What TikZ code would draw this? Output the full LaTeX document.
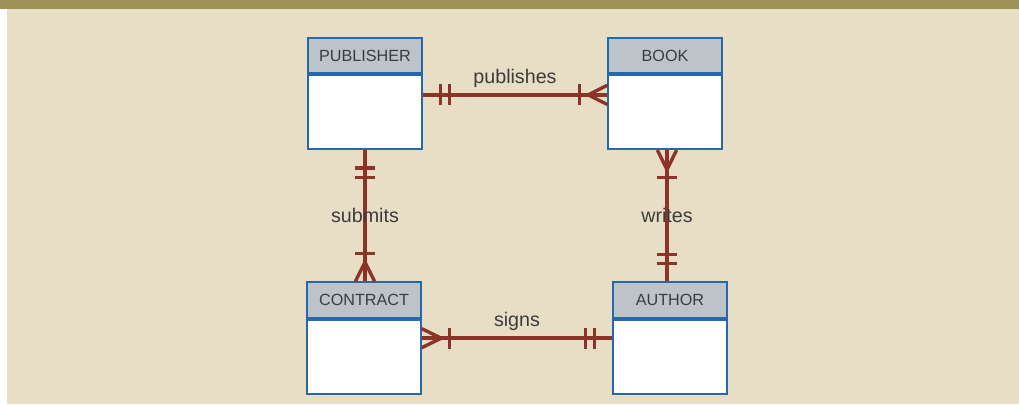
\documentclass[tikz,border=0pt]{standalone}
\usepackage{fontspec}
\setmainfont{Liberation Sans}
\usetikzlibrary{decorations.markings}
\definecolor{bandcol}{RGB}{158,145,86}
\definecolor{papercol}{RGB}{232,221,197}
\definecolor{boxline}{RGB}{38,104,172}
\definecolor{headfill}{RGB}{188,195,201}
\definecolor{relcol}{RGB}{140,52,42}
\definecolor{txtcol}{RGB}{60,60,60}
\tikzset{
  head/.style={draw=boxline, line width=1.4pt, fill=headfill, inner sep=0pt,
    minimum width=2.83cm, minimum height=0.88cm, text=txtcol,
    font=\fontsize{11.5}{13}\selectfont},
  body/.style={draw=boxline, line width=1.4pt, fill=white, inner sep=0pt,
    minimum width=2.83cm, minimum height=1.85cm},
  rel/.style={draw=relcol, line width=2.6pt},
  lbl/.style={text=txtcol, font=\fontsize{14}{16}\selectfont, inner sep=1pt},
  onestart/.style={postaction={decorate, decoration={markings,
    mark=at position 0.45cm with {\draw[relcol, line width=2.4pt] (0,-0.26cm) -- (0,0.26cm);},
    mark=at position 0.68cm with {\draw[relcol, line width=2.4pt] (0,-0.26cm) -- (0,0.26cm);}}}},
  oneend/.style={postaction={decorate, decoration={markings,
    mark=at position -0.68cm with {\draw[relcol, line width=2.4pt] (0,-0.26cm) -- (0,0.26cm);},
    mark=at position -0.45cm with {\draw[relcol, line width=2.4pt] (0,-0.26cm) -- (0,0.26cm);}}}},
  manystart/.style={postaction={decorate, decoration={markings,
    mark=at position 0.49cm with {\draw[relcol, line width=2.4pt] (0,0) -- (-0.49cm,0.24cm) (0,0) -- (-0.49cm,-0.24cm);},
    mark=at position 0.69cm with {\draw[relcol, line width=2.4pt] (0,-0.26cm) -- (0,0.26cm);}}}},
  manyend/.style={postaction={decorate, decoration={markings,
    mark=at position -0.7cm with {\draw[relcol, line width=2.4pt] (0,-0.26cm) -- (0,0.26cm);},
    mark=at position -0.48cm with {\draw[relcol, line width=2.4pt] (0,0) -- (0.48cm,0.24cm) (0,0) -- (0.48cm,-0.24cm);}}}}
}
\begin{document}
\begin{tikzpicture}[x=0.025cm, y=-0.025cm]
    \useasboundingbox (0,0) rectangle (1019,404);
    % background
    \fill[papercol] (0,0) rectangle (1019,404);
    \fill[white] (0,9) rectangle (7,404);
    \fill[bandcol] (0,0) rectangle (1019,9);
    % entities
    \node[head] (pub) at (365,55.5) {PUBLISHER};
    \node[body, anchor=north] (pubb) at (pub.south) {};
    \node[head] (book) at (665,55.5) {BOOK};
    \node[body, anchor=north] (bookb) at (book.south) {};
    \node[head] (con) at (364,300) {CONTRACT};
    \node[body, anchor=north] (conb) at (con.south) {};
    \node[head] (auth) at (670,300) {AUTHOR};
    \node[body, anchor=north] (authb) at (auth.south) {};
    % relationships
    \path ([yshift=0.43cm]pubb.east) edge[rel, onestart, manyend] node[lbl, above=3pt] {publishes} ([yshift=0.43cm]bookb.west);
    \path (pubb.south) edge[rel, onestart, manyend] node[lbl] {submits} (pubb.south |- con.north);
    \path ([xshift=0.05cm]bookb.south) edge[rel, manystart, oneend] node[lbl] {writes} ([xshift=0.05cm]bookb.south |- auth.north);
    \path ([yshift=0.46cm]conb.east) edge[rel, manystart, oneend] node[lbl, above=3pt] {signs} ([yshift=0.46cm]conb.east -| authb.west);
\end{tikzpicture}
\end{document}
